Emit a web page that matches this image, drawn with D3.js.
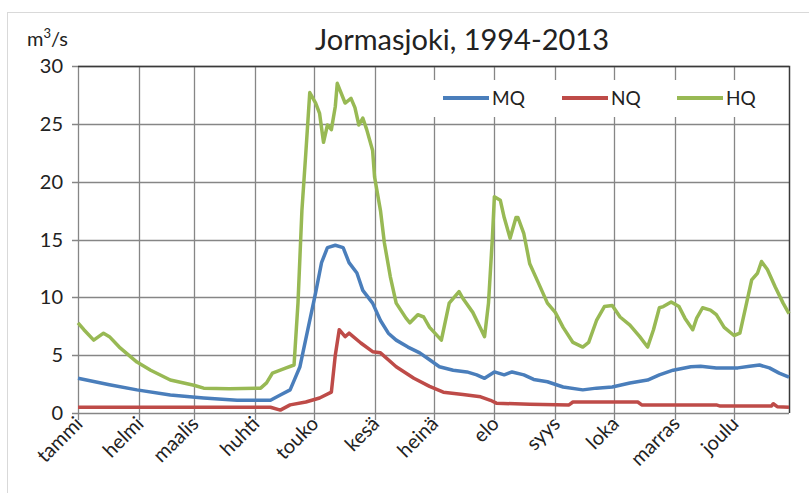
<!DOCTYPE html>
<html>
<head>
<meta charset="utf-8">
<script src="https://cdn.jsdelivr.net/npm/d3@7"></script>
<style>
  body { margin: 0; background: #fff; }
  text { font-family: Lato, "Open Sans", sans-serif; fill: #222; }
</style>
</head>
<body>
<script>
// month names on the x axis and the day each month starts on
var months = ["tammi", "helmi", "maalis", "huhti", "touko", "kesä", "heinä", "elo", "syys", "loka", "marras", "joulu"]
var monthStart = [0, 31, 59, 90, 120, 151, 181, 212, 243, 273, 304, 334]
var yTicks = [0, 5, 10, 15, 20, 25, 30]

// MQ = mean flow
var mqDays = [0, 16, 30, 47, 64, 81, 98, 103, 108, 110, 113, 117, 121, 124, 127, 131, 135, 138, 142, 145, 150, 154, 158, 162, 168, 174, 179, 184, 191, 198, 203, 207, 212, 217, 221, 227, 232, 239, 247, 257, 264, 272, 281, 290, 296, 303, 312, 317, 325, 336, 342, 347, 352, 357, 362]
var mqValues = [3.0, 2.45, 2.0, 1.55, 1.3, 1.1, 1.1, 1.55, 2.0, 2.8, 4.0, 7.2, 10.4, 13.0, 14.3, 14.5, 14.3, 13.0, 12.1, 10.6, 9.5, 8.0, 6.9, 6.3, 5.7, 5.2, 4.6, 4.0, 3.7, 3.55, 3.3, 3.0, 3.55, 3.3, 3.55, 3.3, 2.9, 2.7, 2.25, 2.0, 2.15, 2.25, 2.6, 2.85, 3.3, 3.7, 4.0, 4.05, 3.9, 3.9, 4.05, 4.15, 3.9, 3.45, 3.1]

// NQ = lowest flow
var nqDays = [0, 98, 103, 108, 116, 123, 129, 131, 133, 136, 138, 144, 150, 154, 160, 162, 171, 179, 186, 196, 205, 210, 213, 230, 250, 252, 285, 287, 325, 327, 353, 354, 356, 362]
var nqValues = [0.5, 0.5, 0.25, 0.7, 0.95, 1.3, 1.8, 5.0, 7.2, 6.6, 6.9, 6.05, 5.3, 5.2, 4.3, 4.0, 3.0, 2.3, 1.8, 1.6, 1.4, 1.1, 0.85, 0.75, 0.7, 0.95, 0.95, 0.7, 0.7, 0.6, 0.6, 0.8, 0.55, 0.5]

// HQ = highest flow
var hqDays = [0, 3, 8, 13, 16, 21, 30, 37, 47, 59, 64, 77, 93, 96, 99, 103, 106, 110, 112, 114, 116, 118, 121, 123, 125, 127, 129, 131, 132, 136, 139, 141, 143, 145, 147, 150, 151, 154, 156, 159, 162, 167, 169, 173, 176, 179, 185, 189, 194, 196, 201, 205, 207, 209, 211, 212, 215, 217, 220, 223, 224, 227, 230, 234, 239, 243, 247, 252, 257, 260, 264, 268, 272, 276, 281, 286, 290, 293, 296, 298, 302, 306, 309, 313, 315, 318, 322, 325, 329, 334, 337, 340, 343, 346, 348, 351, 355, 359, 362]
var hqValues = [7.8, 7.2, 6.3, 6.9, 6.6, 5.7, 4.4, 3.7, 2.85, 2.4, 2.15, 2.1, 2.15, 2.6, 3.45, 3.7, 3.9, 4.15, 9.5, 17.5, 22.5, 27.7, 26.8, 25.9, 23.4, 24.9, 24.5, 26.5, 28.5, 26.8, 27.2, 26.4, 24.9, 25.5, 24.5, 22.7, 20.4, 17.5, 14.7, 11.8, 9.5, 8.2, 7.8, 8.5, 8.3, 7.4, 6.3, 9.5, 10.5, 9.9, 8.7, 7.3, 6.6, 9.5, 15.2, 18.7, 18.4, 16.9, 15.1, 16.9, 16.9, 15.5, 12.9, 11.4, 9.5, 8.7, 7.4, 6.1, 5.7, 6.1, 8.0, 9.2, 9.3, 8.3, 7.6, 6.6, 5.7, 7.2, 9.1, 9.2, 9.6, 9.2, 8.2, 7.2, 8.2, 9.1, 8.9, 8.5, 7.4, 6.7, 6.9, 9.2, 11.5, 12.1, 13.1, 12.4, 10.9, 9.5, 8.6]

var series = [
  { name: "MQ", days: mqDays, values: mqValues, color: "#4a7ebb" },
  { name: "NQ", days: nqDays, values: nqValues, color: "#be4b48" },
  { name: "HQ", days: hqDays, values: hqValues, color: "#98b954" }
]

var W = 809, H = 493
var plotL = 78, plotR = 789, plotT = 66, plotB = 413

var svg = d3.select("body")
  .append("svg")
  .attr("width", W)
  .attr("height", H)

// faint outer frame of the chart
svg.append("rect")
  .attr("x", 7.5).attr("y", 12.5)
  .attr("width", 830).attr("height", 500)
  .attr("fill", "none")
  .attr("stroke", "#d9d9d9")

var x = d3.scaleLinear().domain([0, 362]).range([plotL, plotR])
var y = d3.scaleLinear().domain([0, 30]).range([plotB, plotT])

// grid
svg.append("g").selectAll("line")
  .data(yTicks)
  .enter().append("line")
  .attr("x1", plotL - 6).attr("x2", plotR)
  .attr("y1", function (d) { return Math.round(y(d)) + 0.5 })
  .attr("y2", function (d) { return Math.round(y(d)) + 0.5 })
  .attr("stroke", "#868686")
  .attr("stroke-width", 1.3)

svg.append("g").selectAll("line")
  .data(monthStart)
  .enter().append("line")
  .attr("x1", function (d) { return Math.round(x(d)) + 0.5 })
  .attr("x2", function (d) { return Math.round(x(d)) + 0.5 })
  .attr("y1", plotT).attr("y2", plotB + 7)
  .attr("stroke", "#868686")
  .attr("stroke-width", 1.3)

// plot frame (dark on top and right)
svg.append("path")
  .attr("d", "M" + plotL + "," + (plotT + 0.5) + "H" + (plotR + 0.5) + "V" + plotB)
  .attr("fill", "none")
  .attr("stroke", "#3a3a3a")
  .attr("stroke-width", 1.5)

// y labels
svg.append("g").selectAll("text")
  .data(yTicks)
  .enter().append("text")
  .attr("x", 63)
  .attr("y", function (d) { return y(d) })
  .attr("dy", "0.35em")
  .attr("text-anchor", "end")
  .style("font-size", "20px")
  .text(function (d) { return d })

// x labels, turned 45 degrees
svg.append("g").selectAll("text")
  .data(monthStart)
  .enter().append("text")
  .attr("transform", function (d) { return "translate(" + (x(d) + 6) + "," + 425 + ") rotate(-45)" })
  .attr("text-anchor", "end")
  .style("font-size", "20px")
  .text(function (d, i) { return months[i] })

// legend box hides the grid behind it
svg.append("rect")
  .attr("x", 430).attr("y", 80)
  .attr("width", 352).attr("height", 37)
  .attr("fill", "#fff")

var line = d3.line()
  .x(function (d) { return x(d[0]) })
  .y(function (d) { return y(d[1]) })

series.forEach(function (s) {
  svg.append("path")
    .datum(d3.zip(s.days, s.values))
    .attr("d", line)
    .attr("fill", "none")
    .attr("stroke", s.color)
    .attr("stroke-width", 3.5)
    .attr("stroke-linejoin", "round")
})

var legendX = [443, 562, 677]
series.forEach(function (s, i) {
  svg.append("line")
    .attr("x1", legendX[i]).attr("x2", legendX[i] + 46)
    .attr("y1", 98).attr("y2", 98)
    .attr("stroke", s.color)
    .attr("stroke-width", 4)
  svg.append("text")
    .attr("x", legendX[i] + 49).attr("y", 98)
    .attr("dy", "0.35em")
    .style("font-size", "19px")
    .text(s.name)
})

svg.append("text")
  .attr("x", 462).attr("y", 50)
  .attr("text-anchor", "middle")
  .style("font-size", "29px")
  .text("Jormasjoki, 1994-2013")

var unit = svg.append("text")
  .attr("x", 27).attr("y", 46)
  .style("font-size", "20px")
unit.append("tspan").text("m")
unit.append("tspan").attr("dy", -8).style("font-size", "13px").text("3")
unit.append("tspan").attr("dy", 8).text("/s")
</script>
</body>
</html>
